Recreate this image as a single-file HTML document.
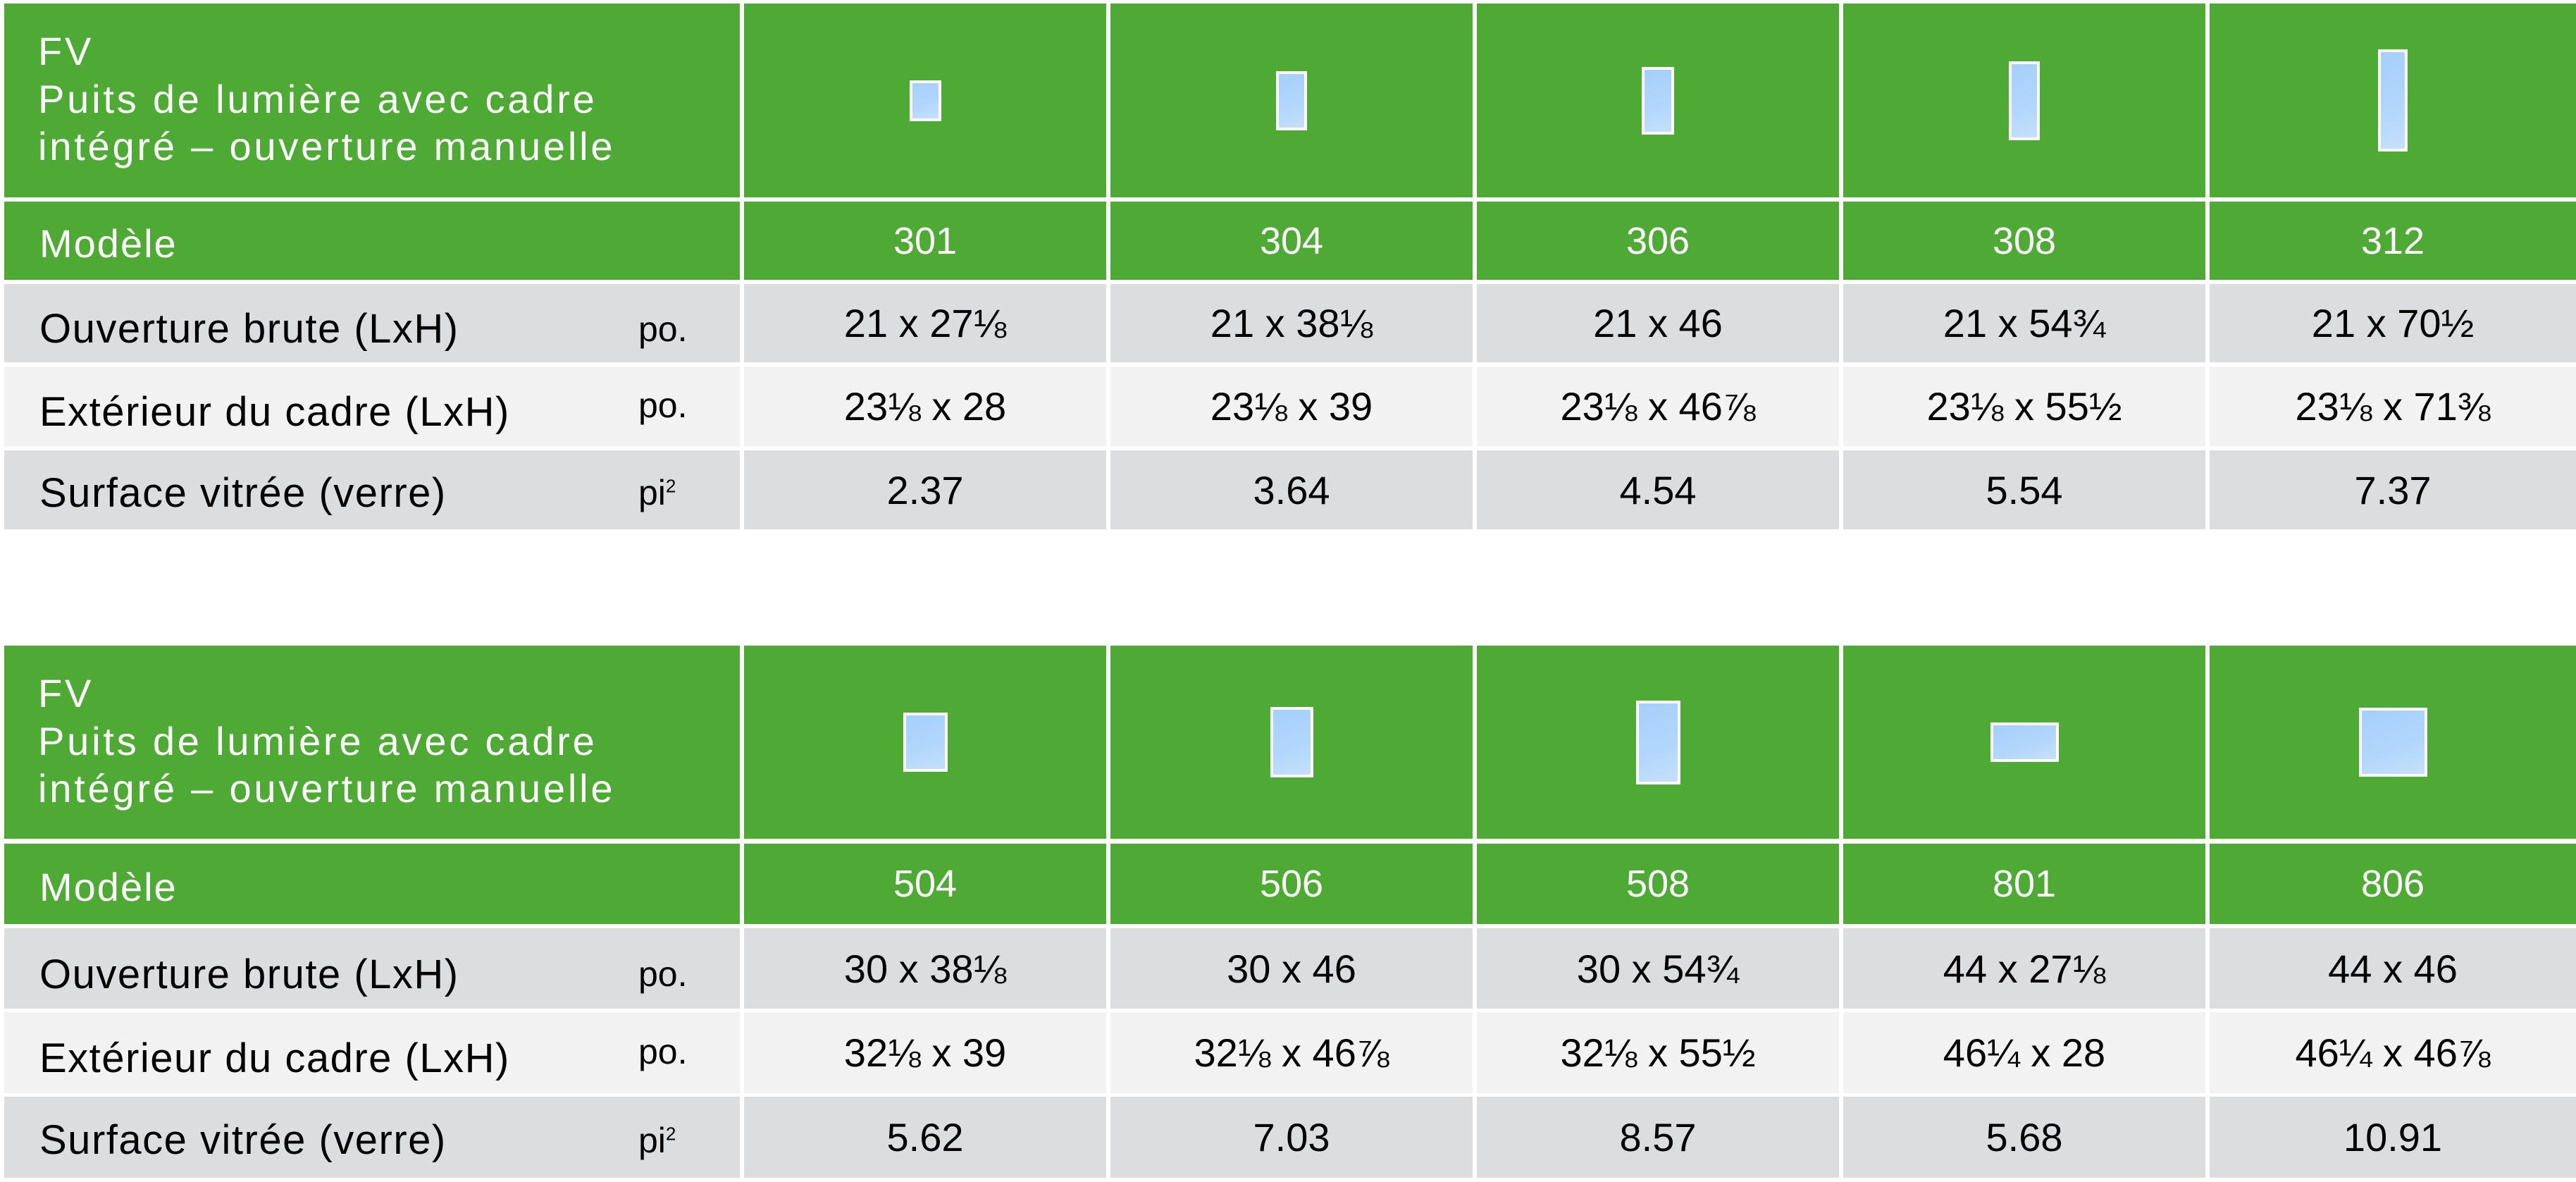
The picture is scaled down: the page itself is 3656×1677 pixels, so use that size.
<!DOCTYPE html>
<html><head><meta charset="utf-8"><style>
body{margin:0;width:3656px;height:1677px;background:#fff;position:relative;overflow:hidden;font-family:"Liberation Sans",Arial,sans-serif}
.c{position:absolute;display:flex;align-items:center;justify-content:center;box-sizing:border-box}
.g{background:#4eaa35;color:#fff}
.d{background:#dcdddf;color:#000}
.l{background:#f1f2f1;color:#000}
.v{font-size:56px}
.m{font-size:54px}
.lab{justify-content:flex-start;padding-left:50px;padding-top:16px;font-size:58px;letter-spacing:1.5px}
.u{position:absolute;left:900px;font-size:50px;letter-spacing:0}
.t{position:absolute;left:54px;font-size:56px;letter-spacing:3.8px;line-height:1;color:#fff;white-space:nowrap}
.w{position:absolute;border:4px solid #fff;background:linear-gradient(160deg,#a5cffb,#b2d7fb 60%,#c6e0fb);box-sizing:border-box}
.mo{font-size:56px;letter-spacing:2px;padding-top:8px}
</style></head><body>

<!-- TABLE 1 -->
<div class="c g" style="left:6px;top:5px;width:1044px;height:275px"></div>
<div class="t" style="top:45px">FV</div>
<div class="t" style="top:113px">Puits de lumière avec cadre</div>
<div class="t" style="top:180px">intégré – ouverture manuelle</div>
<div class="c g" style="left:1056px;top:5px;width:514px;height:275px"><div class="w" style="position:relative;width:45px;height:58px"></div></div>
<div class="c g" style="left:1576px;top:5px;width:514px;height:275px"><div class="w" style="position:relative;width:44px;height:84px"></div></div>
<div class="c g" style="left:2096px;top:5px;width:514px;height:275px"><div class="w" style="position:relative;width:46px;height:96px"></div></div>
<div class="c g" style="left:2616px;top:5px;width:514px;height:275px"><div class="w" style="position:relative;width:44px;height:112px"></div></div>
<div class="c g" style="left:3136px;top:5px;width:520px;height:275px"><div class="w" style="position:relative;width:42px;height:145px"></div></div>

<div class="c g lab mo" style="left:6px;top:286px;width:1044px;height:111px">Modèle</div>
<div class="c g m" style="left:1056px;top:286px;width:514px;height:111px">301</div>
<div class="c g m" style="left:1576px;top:286px;width:514px;height:111px">304</div>
<div class="c g m" style="left:2096px;top:286px;width:514px;height:111px">306</div>
<div class="c g m" style="left:2616px;top:286px;width:514px;height:111px">308</div>
<div class="c g m" style="left:3136px;top:286px;width:520px;height:111px">312</div>

<div class="c d lab" style="left:6px;top:403px;width:1044px;height:111px">Ouverture brute (LxH)<span class="u">po.</span></div>
<div class="c d v" style="left:1056px;top:403px;width:514px;height:111px">21 x 27⅛</div>
<div class="c d v" style="left:1576px;top:403px;width:514px;height:111px">21 x 38⅛</div>
<div class="c d v" style="left:2096px;top:403px;width:514px;height:111px">21 x 46</div>
<div class="c d v" style="left:2616px;top:403px;width:514px;height:111px">21 x 54¾</div>
<div class="c d v" style="left:3136px;top:403px;width:520px;height:111px">21 x 70½</div>

<div class="c l lab" style="left:6px;top:520px;width:1044px;height:113px">Extérieur du cadre (LxH)<span class="u" style="margin-top:-20px">po.</span></div>
<div class="c l v" style="left:1056px;top:520px;width:514px;height:113px">23⅛ x 28</div>
<div class="c l v" style="left:1576px;top:520px;width:514px;height:113px">23⅛ x 39</div>
<div class="c l v" style="left:2096px;top:520px;width:514px;height:113px">23⅛ x 46⅞</div>
<div class="c l v" style="left:2616px;top:520px;width:514px;height:113px">23⅛ x 55½</div>
<div class="c l v" style="left:3136px;top:520px;width:520px;height:113px">23⅛ x 71⅜</div>

<div class="c d lab" style="left:6px;top:639px;width:1044px;height:112px;padding-top:8px">Surface vitrée (verre)<span class="u">pi<sup style="font-size:26px">2</sup></span></div>
<div class="c d v" style="left:1056px;top:639px;width:514px;height:112px">2.37</div>
<div class="c d v" style="left:1576px;top:639px;width:514px;height:112px">3.64</div>
<div class="c d v" style="left:2096px;top:639px;width:514px;height:112px">4.54</div>
<div class="c d v" style="left:2616px;top:639px;width:514px;height:112px">5.54</div>
<div class="c d v" style="left:3136px;top:639px;width:520px;height:112px">7.37</div>

<!-- TABLE 2 -->
<div class="c g" style="left:6px;top:916px;width:1044px;height:274px"></div>
<div class="t" style="top:956px">FV</div>
<div class="t" style="top:1024px">Puits de lumière avec cadre</div>
<div class="t" style="top:1091px">intégré – ouverture manuelle</div>
<div class="c g" style="left:1056px;top:916px;width:514px;height:274px"><div class="w" style="position:relative;width:63px;height:84px"></div></div>
<div class="c g" style="left:1576px;top:916px;width:514px;height:274px"><div class="w" style="position:relative;width:61px;height:100px"></div></div>
<div class="c g" style="left:2096px;top:916px;width:514px;height:274px"><div class="w" style="position:relative;width:63px;height:119px"></div></div>
<div class="c g" style="left:2616px;top:916px;width:514px;height:274px"><div class="w" style="position:relative;width:97px;height:56px"></div></div>
<div class="c g" style="left:3136px;top:916px;width:520px;height:274px"><div class="w" style="position:relative;width:97px;height:98px"></div></div>

<div class="c g lab mo" style="left:6px;top:1197px;width:1044px;height:114px">Modèle</div>
<div class="c g m" style="left:1056px;top:1197px;width:514px;height:114px">504</div>
<div class="c g m" style="left:1576px;top:1197px;width:514px;height:114px">506</div>
<div class="c g m" style="left:2096px;top:1197px;width:514px;height:114px">508</div>
<div class="c g m" style="left:2616px;top:1197px;width:514px;height:114px">801</div>
<div class="c g m" style="left:3136px;top:1197px;width:520px;height:114px">806</div>

<div class="c d lab" style="left:6px;top:1317px;width:1044px;height:114px">Ouverture brute (LxH)<span class="u">po.</span></div>
<div class="c d v" style="left:1056px;top:1317px;width:514px;height:114px">30 x 38⅛</div>
<div class="c d v" style="left:1576px;top:1317px;width:514px;height:114px">30 x 46</div>
<div class="c d v" style="left:2096px;top:1317px;width:514px;height:114px">30 x 54¾</div>
<div class="c d v" style="left:2616px;top:1317px;width:514px;height:114px">44 x 27⅛</div>
<div class="c d v" style="left:3136px;top:1317px;width:520px;height:114px">44 x 46</div>

<div class="c l lab" style="left:6px;top:1436px;width:1044px;height:115px">Extérieur du cadre (LxH)<span class="u" style="margin-top:-20px">po.</span></div>
<div class="c l v" style="left:1056px;top:1436px;width:514px;height:115px">32⅛ x 39</div>
<div class="c l v" style="left:1576px;top:1436px;width:514px;height:115px">32⅛ x 46⅞</div>
<div class="c l v" style="left:2096px;top:1436px;width:514px;height:115px">32⅛ x 55½</div>
<div class="c l v" style="left:2616px;top:1436px;width:514px;height:115px">46¼ x 28</div>
<div class="c l v" style="left:3136px;top:1436px;width:520px;height:115px">46¼ x 46⅞</div>

<div class="c d lab" style="left:6px;top:1556px;width:1044px;height:115px;padding-top:8px">Surface vitrée (verre)<span class="u">pi<sup style="font-size:26px">2</sup></span></div>
<div class="c d v" style="left:1056px;top:1556px;width:514px;height:115px">5.62</div>
<div class="c d v" style="left:1576px;top:1556px;width:514px;height:115px">7.03</div>
<div class="c d v" style="left:2096px;top:1556px;width:514px;height:115px">8.57</div>
<div class="c d v" style="left:2616px;top:1556px;width:514px;height:115px">5.68</div>
<div class="c d v" style="left:3136px;top:1556px;width:520px;height:115px">10.91</div>

</body></html>
